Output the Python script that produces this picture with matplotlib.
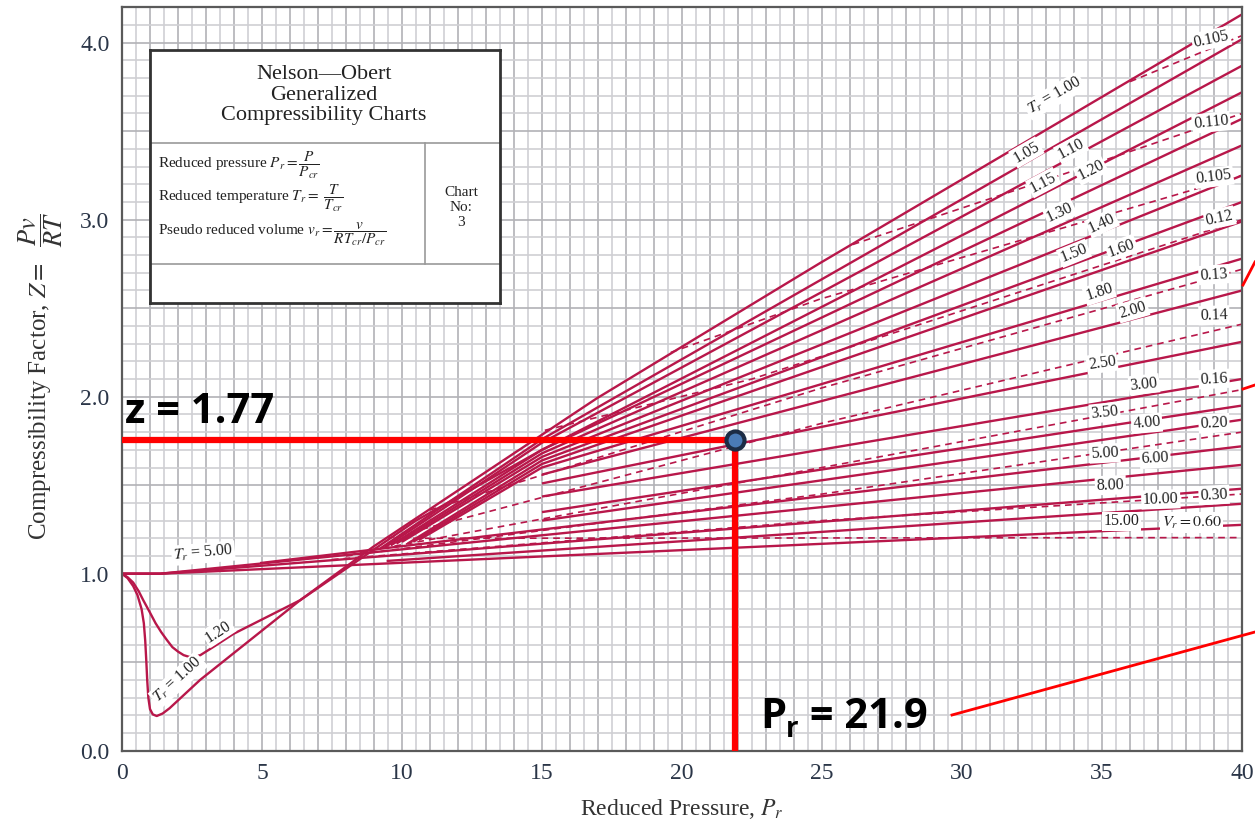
import numpy as np
import matplotlib
matplotlib.use("Agg")
import matplotlib.pyplot as plt
from matplotlib.lines import Line2D

plt.rcParams['font.family'] = ['Liberation Serif', 'DejaVu Serif']
plt.rcParams['mathtext.fontset'] = 'stix'

# ---------------- data ----------------
# Solid reduced-temperature lines: (Pr points, Z points)
tr_pr = [
    [0, 0.2, 0.4, 0.55, 0.7, 0.78, 0.83, 0.87, 0.9, 0.94, 1.0, 1.1, 1.24, 1.45, 1.7, 2.79, 6.36, 8.98, 16.95, 24.93, 40],
    [9.2, 15, 40],
    [9.4, 15, 40],
    [0, 0.2, 0.4, 0.6, 0.76, 1.0, 1.2, 1.4, 1.6, 1.8, 2.0, 2.2, 2.4, 2.6, 2.8, 3.3, 3.98, 6.36, 10.5, 15, 40],
    [9.6, 15, 40],
    [9.8, 15, 40],
    [10.0, 15, 40],
    [10.2, 15, 40],
    [10.4, 15, 40],
    [10.6, 15, 40],
    [15, 40],
    [15, 40],
    [15, 40],
    [15, 40],
    [15, 40],
    [4.93, 40],
    [0, 1.36, 40],
    [0, 1.36, 40],
    [9.45, 40],
    [0, 1.36, 40],
]
tr_z = [
    [1.0, 0.975, 0.93, 0.88, 0.80, 0.72, 0.62, 0.50, 0.40, 0.30, 0.235, 0.205, 0.196, 0.21, 0.24, 0.40, 0.85, 1.153, 1.99, 2.755, 4.16],
    [1.14, 1.76, 4.02],
    [1.15, 1.74, 3.87],
    [1.0, 0.98, 0.95, 0.90, 0.85, 0.78, 0.72, 0.67, 0.626, 0.585, 0.56, 0.54, 0.53, 0.532, 0.54, 0.59, 0.66, 0.85, 1.30, 1.70, 3.72],
    [1.16, 1.70, 3.57],
    [1.17, 1.68, 3.42],
    [1.18, 1.66, 3.25],
    [1.17, 1.64, 3.10],
    [1.18, 1.62, 2.99],
    [1.19, 1.60, 2.78],
    [1.56, 2.60],
    [1.51, 2.31],
    [1.436, 2.10],
    [1.348, 1.95],
    [1.30, 1.87],
    [1.06, 1.72],
    [1.0, 1.0, 1.615],
    [1.0, 1.0, 1.48],
    [1.072, 1.395],
    [1.0, 1.0, 1.276],
]

# Dashed pseudo-reduced-volume lines
vr_pr = [
    [36.0, 40],
    [26.1, 33.3, 40],
    [19.6, 24.9, 40],
    [15.1, 22.5, 40],
    [11.0, 25, 40],
    [9.5, 25, 40],
    [8.5, 25, 40],
    [8.0, 25, 40],
    [7.5, 25, 40],
    [10.4, 40],
]
vr_z = [
    [3.78, 4.04],
    [2.86, 3.24, 3.60],
    [2.25, 2.55, 3.25],
    [1.81, 2.10, 3.00],
    [1.36, 2.05, 2.72],
    [1.20, 1.85, 2.41],
    [1.12, 1.60, 2.04],
    [1.10, 1.45, 1.80],
    [1.08, 1.30, 1.45],
    [1.20, 1.204],
]

# Curve labels: text, Pr, Z, rotation
tr_labels = [
    (r"$T_r$ = 1.00", 33.3, 3.70, 30), ("1.05", 32.3, 3.38, 30), ("1.10", 33.9, 3.40, 28),
    ("1.15", 32.9, 3.21, 28), ("1.20", 34.6, 3.28, 27), ("1.30", 33.5, 3.04, 25),
    ("1.40", 35.0, 2.98, 25), ("1.50", 34.0, 2.81, 22), ("1.60", 35.7, 2.84, 20),
    ("1.80", 34.9, 2.59, 18), ("2.00", 36.1, 2.49, 16), ("2.50", 35.0, 2.19, 8),
    ("3.00", 36.5, 2.07, 6), ("3.50", 35.1, 1.91, 6), ("4.00", 36.6, 1.85, 5),
    ("5.00", 35.1, 1.68, 3), ("6.00", 36.9, 1.65, 3), ("8.00", 35.3, 1.50, 2),
    ("10.00", 37.1, 1.42, 2), ("15.00", 35.7, 1.295, 0), (r"$V_r = 0.60$", 38.2, 1.29, 0),
    (r"$T_r$ = 5.00", 2.9, 1.116, 5), ("1.20", 3.44, 0.673, 33), (r"$T_r$ = 1.00", 2.0, 0.40, 42),
]
vr_labels = [
    ("0.105", 38.9, 4.02, 12), ("0.110", 38.9, 3.55, 6), ("0.105", 39.0, 3.24, 7),
    ("0.12", 39.2, 3.01, 12), ("0.13", 39.0, 2.69, 4), ("0.14", 39.0, 2.46, 2),
    ("0.16", 39.0, 2.10, 3), ("0.20", 39.0, 1.85, 3), ("0.30", 39.0, 1.445, 3),
]

x_ticks = [0, 5, 10, 15, 20, 25, 30, 35, 40]
y_ticks = [0.0, 1.0, 2.0, 3.0, 4.0]

pr_point = 21.9
z_point = 1.755

# ---------------- figure ----------------
W, H = 1255, 821
fig = plt.figure(figsize=(W / 100, H / 100), dpi=100)
L, R, T, B = 122, 1242, 7.3, 750.7
ax = fig.add_axes([L / W, 1 - B / H, (R - L) / W, (B - T) / H])
ax.set_xlim(0, 40)
ax.set_ylim(0, 4.2)

def fx(px):
    return px / W

def fy(py):
    return 1 - py / H

# grid
for xv in np.arange(0.5, 40, 0.5):
    c = '#b2b2b6' if abs(xv - round(xv)) < 1e-6 else '#d0d0d4'
    ax.axvline(xv, color=c, lw=1.2, zorder=0)
for yv in np.arange(0.1, 4.2, 0.1):
    k = int(round(yv * 10))
    c = '#b2b2b6' if k % 5 == 0 else '#cfcfd3'
    ax.axhline(yv, color=c, lw=1.2, zorder=0)

crimson = '#b8174a'
for xs, zs in zip(tr_pr, tr_z):
    ax.plot(xs, zs, color=crimson, lw=1.7, zorder=2, solid_capstyle='butt')
for xs, zs in zip(vr_pr, vr_z):
    ax.plot(xs, zs, color=crimson, lw=1.2, ls=(0, (4, 3)), zorder=2)

lab_kw = dict(fontsize=11.5, color='#222222', ha='center', va='center', zorder=4,
              bbox=dict(boxstyle='square,pad=0.1', fc='white', ec='none'))
for txt, x, y, rot in tr_labels + vr_labels:
    ax.text(x, y, txt, rotation=rot, rotation_mode='anchor', **lab_kw)

ax.set_xticks(x_ticks)
ax.set_yticks(y_ticks)
ax.set_xticklabels([str(v) for v in x_ticks])
ax.set_yticklabels([f"{v:.1f}" for v in y_ticks])
ax.tick_params(length=0, labelsize=17, colors='#2b3648', pad=9)
for s in ax.spines.values():
    s.set_color('#5a5a5a')
    s.set_linewidth(1.6)

ax.set_xlabel(r"Reduced Pressure, $P_r$", fontsize=17, color='#333333', labelpad=9)
# y label: text part and a larger fraction part
fig.text(fx(40), fy(401), r"Compressibility Factor, $Z =$", rotation=90, fontsize=18,
         color='#333333', ha='center', va='center')
fig.text(fx(41), fy(229), r"$\dfrac{Pv}{RT}$", rotation=90, fontsize=19,
         color='#333333', ha='center', va='center')

# ---------------- info box ----------------
bx0, by0, bx1, by1 = 150, 50, 500, 303
box = fig.add_axes([bx0 / W, 1 - by1 / H, (bx1 - bx0) / W, (by1 - by0) / H])
box.set_xlim(bx0, bx1)
box.set_ylim(by1, by0)
box.set_xticks([])
box.set_yticks([])
for s in box.spines.values():
    s.set_color('#333333')
    s.set_linewidth(2.0)
box.plot([bx0, bx1], [143, 143], color='#999999', lw=1.2)
box.plot([bx0, bx1], [264, 264], color='#999999', lw=1.2)
box.plot([425, 425], [143, 264], color='#999999', lw=1.2)
box.text(324, 95, "Nelson\u2014Obert\nGeneralized\nCompressibility Charts", ha='center', va='center',
         fontsize=16, color='#222222', linespacing=1.1)
box.text(158, 166, r"Reduced pressure $P_r = \dfrac{P}{P_{cr}}$", fontsize=11, va='center', color='#222222')
box.text(158, 199, r"Reduced temperature $T_r = \ \dfrac{T}{T_{cr}}$", fontsize=11, va='center', color='#222222')
box.text(158, 234, r"Pseudo reduced volume $v_r = \dfrac{v}{RT_{cr}/P_{cr}}$", fontsize=11, va='center', color='#222222')
box.text(461, 207, "Chart\nNo:\n3", ha='center', va='center', fontsize=11, color='#222222', linespacing=1.2)

# ---------------- annotation ----------------
red = '#ff0000'
ax.plot([0, pr_point], [z_point, z_point], color=red, lw=4.5, zorder=5, solid_capstyle='butt')
ax.plot([pr_point, pr_point], [0, z_point], color=red, lw=4.5, zorder=5, solid_capstyle='butt')
ax.plot([pr_point], [z_point], 'o', ms=13, mfc='#4a7bb7', mec='#1c2c45', mew=3, zorder=6)

fig.text(fx(125), fy(423), "z = 1.77", fontsize=30, fontweight='bold', family='Open Sans', color='black')
fig.text(fx(760), fy(728), "P", fontsize=30, fontweight='bold', family='Open Sans', color='black')
fig.text(fx(786), fy(737), "r", fontsize=20, fontweight='bold', family='Open Sans', color='black')
fig.text(fx(799), fy(728), " = 21.9", fontsize=30, fontweight='bold', family='Open Sans', color='black')

fig.add_artist(Line2D([fx(952), fx(1255)], [fy(715), fy(632)], color=red, lw=2))
fig.add_artist(Line2D([fx(1243), fx(1255)], [fy(285), fy(262)], color=red, lw=2))
fig.add_artist(Line2D([fx(1243), fx(1255)], [fy(389), fy(385)], color=red, lw=2))

fig.savefig("out.png", dpi=100)
